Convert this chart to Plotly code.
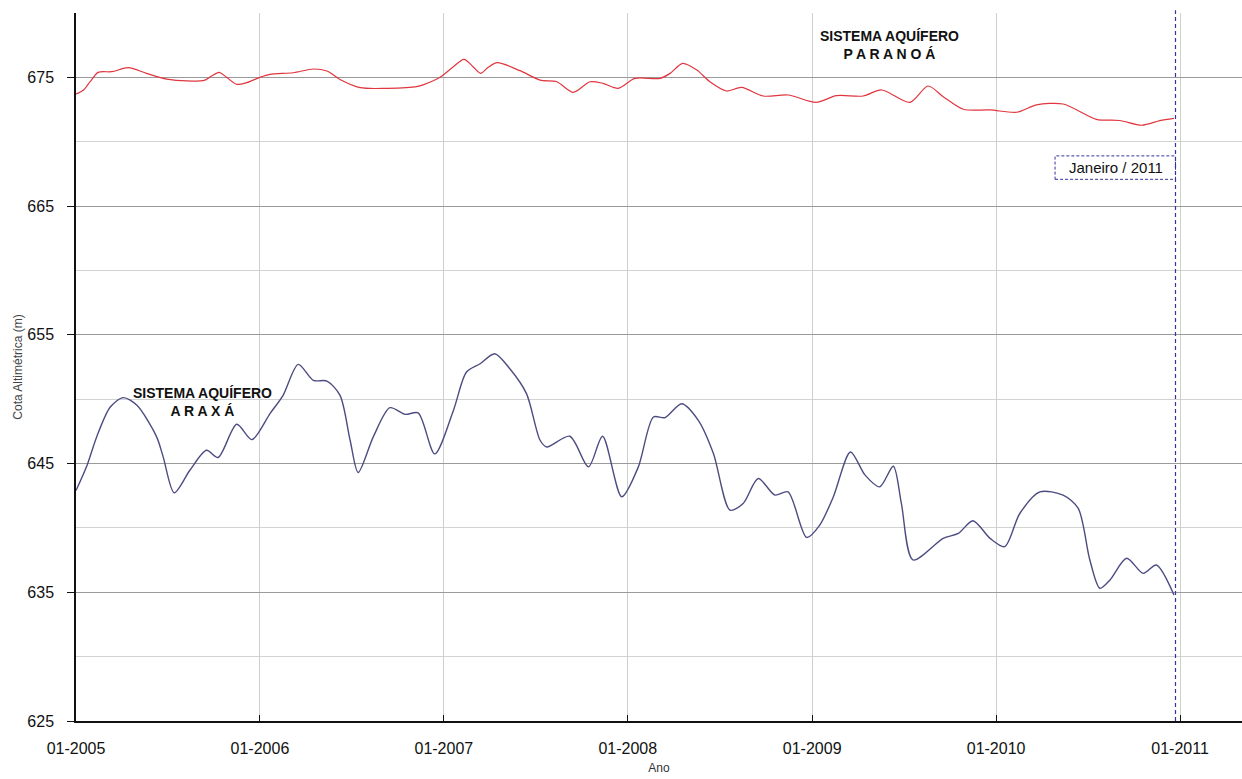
import plotly.graph_objects as go

# Sistema Aquífero Paranoá - cota altimétrica (m)
paranoa_datas = [
    "2005-01-01", "2005-01-16", "2005-01-29", "2005-02-14", "2005-03-13", "2005-04-15",
    "2005-05-21", "2005-06-30", "2005-08-09", "2005-09-14", "2005-09-27", "2005-10-12",
    "2005-10-27", "2005-11-16", "2005-12-06", "2006-01-01", "2006-01-21", "2006-03-08",
    "2006-04-17", "2006-05-14", "2006-06-09", "2006-07-19", "2006-09-10", "2006-11-08",
    "2006-12-11", "2006-12-26", "2007-01-20", "2007-02-10", "2007-02-28", "2007-03-15",
    "2007-03-30", "2007-04-17", "2007-06-01", "2007-07-11", "2007-08-13", "2007-09-15",
    "2007-10-18", "2007-11-13", "2007-12-13", "2008-01-15", "2008-03-05", "2008-03-25",
    "2008-04-19", "2008-05-17", "2008-06-12", "2008-07-15", "2008-08-14", "2008-09-26",
    "2008-11-14", "2009-01-09", "2009-02-18", "2009-04-12", "2009-05-19", "2009-07-14",
    "2009-08-19", "2009-09-18", "2009-10-28", "2009-12-20", "2010-02-11", "2010-03-22",
    "2010-05-14", "2010-07-19", "2010-09-03", "2010-10-17", "2010-11-22", "2010-12-20",
]
paranoa_cotas = [
    673.71, 674.02, 674.66, 675.39, 675.44, 675.75,
    675.31, 674.87, 674.72, 674.79, 675.10, 675.39,
    675.00, 674.46, 674.59, 675.00, 675.23, 675.36,
    675.65, 675.49, 674.84, 674.20, 674.15, 674.28,
    674.74, 675.05, 675.83, 676.40, 675.83, 675.31,
    675.78, 676.14, 675.52, 674.79, 674.66, 673.84,
    674.66, 674.53, 674.15, 674.92, 674.92, 675.31,
    676.09, 675.57, 674.66, 673.94, 674.22, 673.55,
    673.63, 673.06, 673.58, 673.55, 674.02, 673.06,
    674.33, 673.50, 672.52, 672.47, 672.29, 672.86,
    672.93, 671.74, 671.65, 671.28, 671.64, 671.82,
]

# Sistema Aquífero Araxá - cota altimétrica (m)
araxa_datas = [
    "2005-01-01", "2005-01-23", "2005-02-11", "2005-03-10", "2005-04-05", "2005-05-02",
    "2005-06-10", "2005-06-23", "2005-07-15", "2005-08-15", "2005-09-17", "2005-10-10",
    "2005-11-16", "2005-12-16", "2006-01-21", "2006-02-16", "2006-03-18", "2006-04-17",
    "2006-05-14", "2006-06-09", "2006-06-29", "2006-07-15", "2006-08-14", "2006-09-16",
    "2006-10-16", "2006-11-11", "2006-12-14", "2007-01-20", "2007-02-15", "2007-03-14",
    "2007-04-12", "2007-05-12", "2007-06-14", "2007-07-11", "2007-07-24", "2007-09-08",
    "2007-10-15", "2007-11-12", "2007-12-20", "2008-01-22", "2008-02-21", "2008-03-15",
    "2008-04-17", "2008-05-20", "2008-06-19", "2008-07-22", "2008-08-17", "2008-09-16",
    "2008-10-19", "2008-11-14", "2008-12-21", "2009-01-16", "2009-02-12", "2009-03-18",
    "2009-04-16", "2009-05-15", "2009-06-11", "2009-06-27", "2009-07-20", "2009-09-18",
    "2009-10-18", "2009-11-16", "2009-12-20", "2010-01-18", "2010-02-17", "2010-03-29",
    "2010-05-14", "2010-06-13", "2010-07-06", "2010-07-26", "2010-08-15", "2010-09-17",
    "2010-10-20", "2010-11-15", "2010-12-20",
]
araxa_cotas = [
    642.90, 644.87, 647.07, 649.39, 650.12, 649.52,
    647.07, 645.52, 642.73, 644.48, 646.03, 645.47,
    648.05, 646.86, 648.88, 650.30, 652.70, 651.46,
    651.41, 650.30, 646.81, 644.30, 647.07, 649.34,
    648.82, 648.93, 645.75, 649.13, 652.11, 652.75,
    653.53, 652.36, 650.43, 646.81, 646.29, 647.12,
    644.74, 647.12, 642.42, 644.74, 648.62, 648.57,
    649.65, 648.36, 645.78, 641.38, 641.90, 643.84,
    642.55, 642.80, 639.26, 640.22, 642.42, 645.90,
    644.10, 643.19, 644.79, 641.90, 637.51, 639.19,
    639.57, 640.56, 639.19, 638.54, 641.12, 642.80,
    642.55, 641.51, 637.51, 635.31, 635.96, 637.64,
    636.47, 637.12, 634.79,
]

# Marco temporal de referência
data_referencia = "2010-12-23"
rotulo_referencia = "Janeiro / 2011"

FONTE = "Liberation Sans, Arial, sans-serif"

fig = go.Figure()

fig.add_trace(go.Scatter(
    x=paranoa_datas, y=paranoa_cotas, mode="lines",
    line=dict(color="#e0363f", width=1.2, shape="spline", smoothing=0.8),
    showlegend=False, name="Paranoá",
))
fig.add_trace(go.Scatter(
    x=araxa_datas, y=araxa_cotas, mode="lines",
    line=dict(color="#4c4c82", width=1.4, shape="spline", smoothing=0.8),
    showlegend=False, name="Araxá",
))

# Linha vertical tracejada no marco de referência
fig.add_shape(type="line", xref="x", yref="paper",
              x0=data_referencia, x1=data_referencia, y0=0, y1=1.004,
              line=dict(color="#34349a", width=1.2, dash="4px,3px"))

# Caixa tracejada com o rótulo do marco
fig.add_shape(type="rect", xref="x", yref="y",
              x0="2010-04-28", x1=data_referencia, y0=667.08, y1=668.9,
              line=dict(color="#34349a", width=1, dash="3px,2px"),
              fillcolor="rgba(255,255,255,0)")
fig.add_annotation(x="2010-08-26", y=667.97, xref="x", yref="y",
                   text=rotulo_referencia, showarrow=False,
                   font=dict(family=FONTE, size=15, color="#111"))

fig.add_annotation(x="2009-06-04", y=677.5, xref="x", yref="y",
                   text="<b>SISTEMA AQUÍFERO<br>P A R A N O Á</b>",
                   showarrow=False, align="center",
                   font=dict(family=FONTE, size=14, color="#111"))
fig.add_annotation(x="2005-09-10", y=649.75, xref="x", yref="y",
                   text="<b>SISTEMA AQUÍFERO<br>A R A X Á</b>",
                   showarrow=False, align="center",
                   font=dict(family=FONTE, size=14, color="#111"))

fig.update_layout(
    width=1242, height=779,
    margin=dict(l=76, r=0, t=13, b=58),
    paper_bgcolor="white", plot_bgcolor="white",
    font=dict(family=FONTE, color="#111"),
)

fig.update_xaxes(
    type="date",
    range=["2005-01-01", "2011-05-04"],
    tick0="2005-01-01", dtick="M12", tickformat="%m-%Y",
    ticks="inside", ticklen=6, tickcolor="#111",
    showline=True, linecolor="#111", linewidth=1.5,
    showgrid=True, gridcolor="#cfcfcf", gridwidth=1,
    tickfont=dict(family=FONTE, size=16, color="#111"),
    ticklabelstandoff=12,
    title=dict(text="Ano", font=dict(family=FONTE, size=12, color="#333"), standoff=8),
    zeroline=False,
)

fig.update_yaxes(
    range=[625, 680],
    tick0=625, dtick=10,
    ticks="outside", ticklen=7, tickcolor="#111",
    showline=True, linecolor="#111", linewidth=1.5,
    showgrid=True, gridcolor="#9a9a9a", gridwidth=1,
    minor=dict(tick0=630, dtick=10, showgrid=True, gridcolor="#d2d2d2", gridwidth=1, ticks=""),
    tickfont=dict(family=FONTE, size=16, color="#111"),
    ticklabelstandoff=10,
    title=dict(text="Cota Altimétrica (m)", font=dict(family=FONTE, size=12, color="#444"), standoff=2),
    zeroline=False,
)

fig.write_html("out.html")
